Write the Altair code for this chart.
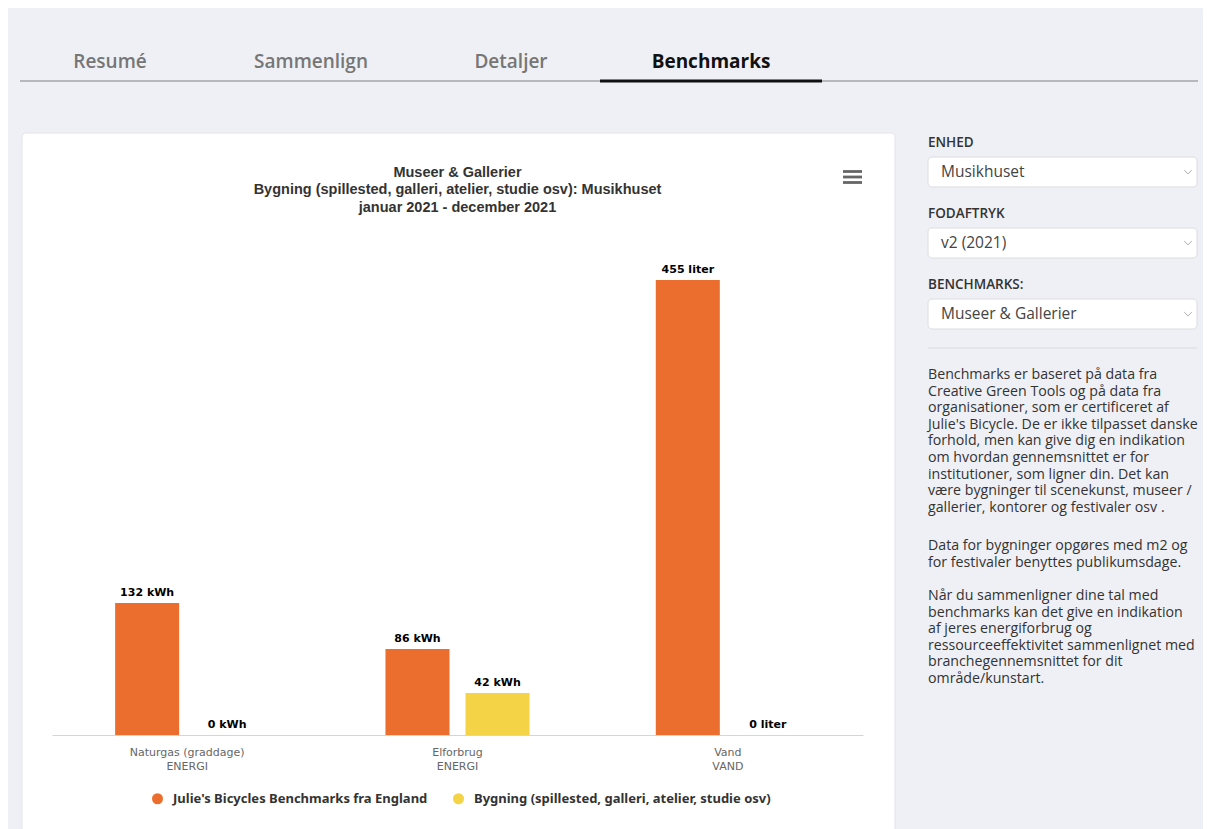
import altair as alt
import pandas as pd

# ---------------- data ----------------
title_lines = [
    "Museer & Gallerier",
    "Bygning (spillested, galleri, atelier, studie osv): Musikhuset",
    "januar 2021 - december 2021",
]
categories = ["Naturgas (graddage)", "Elforbrug", "Vand"]
category_groups = ["ENERGI", "ENERGI", "VAND"]
units = ["kWh", "kWh", "liter"]
series = [
    "Julie's Bicycles Benchmarks fra England",
    "Bygning (spillested, galleri, atelier, studie osv)",
]
benchmark_values = [132, 86, 455]
building_values = [0, 42, 0]
series_colors = ["#ec6e2e", "#f4d347"]

tabs = ["Resumé", "Sammenlign", "Detaljer", "Benchmarks"]
active_tab = "Benchmarks"
field_labels = ["ENHED", "FODAFTRYK", "BENCHMARKS:"]
field_values = ["Musikhuset", "v2 (2021)", "Museer & Gallerier"]
paragraph_1 = [
    "Benchmarks er baseret på data fra",
    "Creative Green Tools og på data fra",
    "organisationer, som er certificeret af",
    "Julie's Bicycle. De er ikke tilpasset danske",
    "forhold, men kan give dig en indikation",
    "om hvordan gennemsnittet er for",
    "institutioner, som ligner din. Det kan",
    "være bygninger til scenekunst, museer /",
    "gallerier, kontorer og festivaler osv .",
]
paragraph_2 = [
    "Data for bygninger opgøres med m2 og",
    "for festivaler benyttes publikumsdage.",
]
paragraph_3 = [
    "Når du sammenligner dine tal med",
    "benchmarks kan det give en indikation",
    "af jeres energiforbrug og",
    "ressourceeffektivitet sammenlignet med",
    "branchegennemsnittet for dit",
    "område/kunstart.",
]

rows = []
for i, c in enumerate(categories):
    cat = f"{c}|{category_groups[i]}"
    for s, vals in zip(series, [benchmark_values, building_values]):
        rows.append({"cat": cat, "series": s, "value": vals[i],
                     "label": f"{vals[i]} {units[i]}"})
df = pd.DataFrame(rows)
cat_order = [f"{c}|{g}" for c, g in zip(categories, category_groups)]

# --------------- layout helpers (page px -> plot px) ---------------
OX, OY = 52, 235
def px(X):
    return X - OX
def py(Y):
    return Y - OY

one = pd.DataFrame({"k": [0]})

def text_layer(text, X, Y, size, color, font, weight="normal", align="left",
               baseline="middle", line_height=None):
    kw = dict(text=text, font=font, fontSize=size, fontWeight=weight,
              color=color, align=align, baseline=baseline)
    if line_height is not None:
        kw["lineHeight"] = line_height
    return alt.Chart(one).mark_text(**kw).encode(
        x=alt.value(px(X)), y=alt.value(py(Y)))

def rect_layer(X1, X2, Y1, Y2, fill, stroke=None, radius=0):
    kw = dict(fill=fill, cornerRadius=radius)
    if stroke is not None:
        kw["stroke"] = stroke
        kw["strokeWidth"] = 1
    return alt.Chart(one).mark_rect(**kw).encode(
        x=alt.value(px(X1)), x2=alt.value(px(X2)),
        y=alt.value(py(Y1)), y2=alt.value(py(Y2)))

def rule_layer(X1, X2, Y, color, width):
    return alt.Chart(one).mark_rule(color=color, strokeWidth=width).encode(
        x=alt.value(px(X1)), x2=alt.value(px(X2)), y=alt.value(py(Y)))

layers = []
# card
layers.append(rect_layer(22, 895, 133, 845, "#ffffff", "#e4e4e8", 4))
# tabs
layers.append(rule_layer(20, 1198, 81, "#b8b8bc", 2))
layers.append(rule_layer(600, 822, 81, "#111111", 3))
for t, cx in zip(tabs, [110, 311, 511, 711]):
    act = t == active_tab
    layers.append(text_layer(t, cx, 62, 19, "#111111" if act else "#767676",
                             "Open Sans", 700 if act else 600, align="center"))
# sidebar
for k, (lab, val) in enumerate(zip(field_labels, field_values)):
    base = 143 + 71 * k
    layers.append(text_layer(lab, 928, base, 13.5, "#333333", "Open Sans", 600))
    layers.append(rect_layer(928, 1197, base + 14, base + 44, "#ffffff", "#dcdce0", 4))
    layers.append(text_layer(val, 941, base + 29, 15.5, "#444444", "Open Sans"))
    layers.append(
        alt.Chart(one).mark_point(shape="M-1,-0.5L0,0.5L1,-0.5", filled=False,
                                  stroke="#888888", strokeWidth=1, size=56)
        .encode(x=alt.value(px(1188)), y=alt.value(py(base + 29))))
layers.append(rule_layer(928, 1197, 348, "#d9d9dd", 1))
for para, top in [(paragraph_1, 368), (paragraph_2, 539), (paragraph_3, 589)]:
    layers.append(text_layer(para, 928, top, 14.2, "#333333", "Open Sans",
                             baseline="top", line_height=16.6))
# chart title
layers.append(text_layer(title_lines, 457.5, 172.5, 14.5, "#333333",
                         "Liberation Sans", "bold", align="center",
                         line_height=17.5))
# hamburger menu
for yy in [171.5, 177, 182.5]:
    layers.append(rule_layer(843, 862, yy, "#666666", 2.8))

# --------------- bars ---------------
x_enc = alt.X("cat:N", sort=cat_order,
              scale=alt.Scale(paddingInner=0.467, paddingOuter=0.2335),
              axis=alt.Axis(title=None, labelExpr="split(datum.label, '|')",
                            labelAngle=0, ticks=False, tickSize=0,
                            domainColor="#ccd6eb", domainWidth=1,
                            labelColor="#666666", labelFont="DejaVu Sans",
                            labelFontSize=11, labelLineHeight=13.5,
                            labelPadding=11.5, grid=False, zindex=1))
xo_enc = alt.XOffset("series:N", sort=series,
                     scale=alt.Scale(paddingInner=0.2, paddingOuter=0))
y_enc = alt.Y("value:Q", scale=alt.Scale(domain=[0, 500]), axis=None)

bars = alt.Chart(df).mark_bar().encode(
    x=x_enc, xOffset=xo_enc, y=y_enc,
    color=alt.Color("series:N", sort=series,
                    scale=alt.Scale(domain=series, range=series_colors),
                    legend=alt.Legend(orient="none", legendX=px(151),
                                      legendY=py(792), direction="horizontal",
                                      columns=2, title=None, symbolType="circle",
                                      symbolSize=121, symbolStrokeWidth=0,
                                      labelFont="Noto Sans", labelFontSize=13,
                                      labelFontWeight="bold",
                                      labelColor="#333333", labelLimit=600,
                                      labelOffset=9, columnPadding=24,
                                      padding=0)),
)
labels = alt.Chart(df).mark_text(
    font="DejaVu Sans", fontWeight="bold", fontSize=11, color="#000000",
    baseline="alphabetic", dy=-7,
).encode(x=x_enc, xOffset=xo_enc, y=y_enc, text="label:N")

layers += [bars, labels]

chart = alt.layer(*layers).properties(
    width=811, height=500,
    autosize=alt.AutoSizeParams(type="none"),
    padding={"left": 44, "top": 227, "right": 340, "bottom": 94},
).configure(background="#eff0f5").configure_view(strokeWidth=0)

chart.save("out.html", embed_options={"renderer": "svg", "actions": False})
